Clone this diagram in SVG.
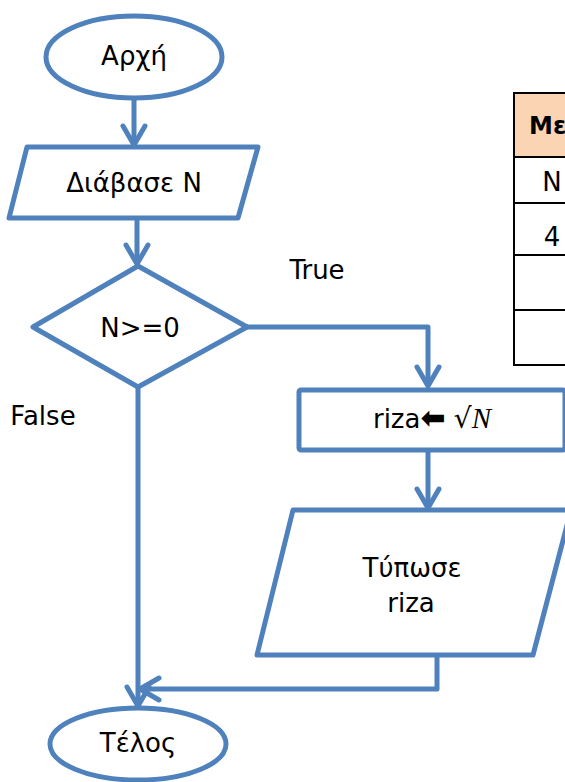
<svg xmlns="http://www.w3.org/2000/svg" width="565" height="782" viewBox="0 0 565 782">
<defs>
<marker id="arr" markerUnits="userSpaceOnUse" markerWidth="30" markerHeight="30" viewBox="-4 -4 30 30" refX="20" refY="11" orient="auto">
<path d="M1,0 L20,11 L1,22" fill="none" stroke="#4F81BD" stroke-width="5" stroke-linecap="round" stroke-linejoin="round"/>
</marker>
</defs>
<style>
.s{fill:#fff;stroke:#4F81BD;stroke-width:5;stroke-linejoin:round}
.c{fill:none;stroke:#4F81BD;stroke-width:5;stroke-linejoin:round}
.t{font-family:"DejaVu Sans","Liberation Sans",sans-serif;font-size:26px;fill:#000;text-anchor:middle}
.tb{fill:#fff;stroke:#000;stroke-width:2}
</style>
<g id="connectors">
<path class="c" d="M134,98 V145" marker-end="url(#arr)"/>
<path class="c" d="M137,218 V264" marker-end="url(#arr)"/>
<path class="c" d="M247,327 H428 V386" marker-end="url(#arr)"/>
<path class="c" d="M428,450 V508" marker-end="url(#arr)"/>
<path class="c" d="M138,387 V706" marker-end="url(#arr)"/>
<path class="c" d="M437,655 V689 H140" marker-end="url(#arr)"/>
<text class="t" x="317" y="279">True</text>
<text class="t" x="43" y="425">False</text>
</g>
<g id="start">
<ellipse class="s" cx="134" cy="57" rx="88" ry="41"/>
<text class="t" x="134" y="65">Αρχή</text>
</g>
<g id="read">
<polygon class="s" points="27,147 258,147 238,218 9,218"/>
<text class="t" x="134" y="192">Διάβασε N</text>
</g>
<g id="decision">
<polygon class="s" points="138,266 247,327 138,387 33,327"/>
<text class="t" x="140" y="337">N&gt;=0</text>
</g>
<g id="assign">
<rect class="s" x="299" y="390" width="266" height="60" rx="2"/>
<text class="t" x="432" y="428">riza<tspan font-weight="bold" font-size="30">⬅</tspan> <tspan font-family="'DejaVu Serif','Liberation Serif',serif" font-size="28">√</tspan><tspan font-family="'Liberation Serif','DejaVu Serif',serif" font-style="italic" font-size="29">N</tspan></text>
</g>
<g id="print">
<polygon class="s" points="293,510 571,510 533,655 257,655"/>
<text class="t" x="412" y="577">Τύπωσε</text>
<text class="t" x="411" y="612">riza</text>
</g>
<g id="end">
<ellipse class="s" cx="138" cy="744" rx="88" ry="36"/>
<text class="t" x="138" y="752">Τέλος</text>
</g>
<g id="table">
<rect x="514" y="93" width="60" height="64" fill="#FBD4B4" stroke="#000" stroke-width="2"/>
<rect class="tb" x="514" y="157" width="60" height="46"/>
<rect class="tb" x="514" y="203" width="60" height="52"/>
<rect class="tb" x="514" y="255" width="60" height="55"/>
<rect class="tb" x="514" y="310" width="60" height="55"/>
<text x="529" y="134" font-family="'DejaVu Sans','Liberation Sans',sans-serif" font-size="24" font-weight="bold">Με</text>
<text x="552" y="191" class="t" font-size="23">N</text>
<text x="552" y="246" class="t" font-size="23">4</text>
</g>
</svg>
